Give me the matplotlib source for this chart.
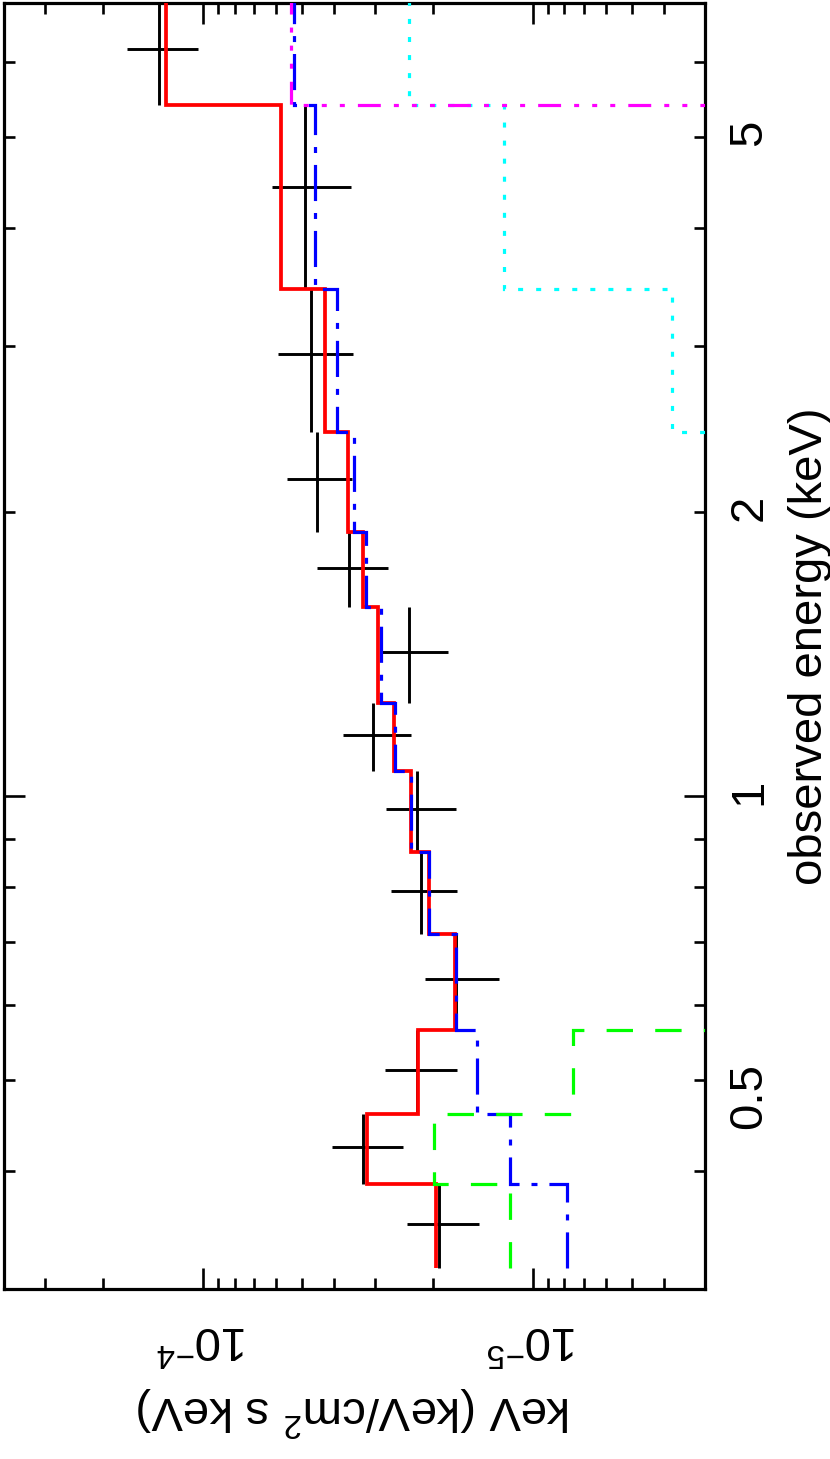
import numpy as np
import matplotlib
matplotlib.use("Agg")
import matplotlib.pyplot as plt
from matplotlib.ticker import LogLocator, FuncFormatter, NullFormatter

plt.rcParams["font.family"] = ["Liberation Sans", "DejaVu Sans"]
plt.rcParams["lines.scale_dashes"] = False

# -----------------------------
# data (energy bins in keV, flux in keV (keV/cm^2 s keV))
# -----------------------------
e_edges = [0.316, 0.388, 0.460, 0.565, 0.714, 0.872, 1.063, 1.255,
           1.587, 1.905, 2.43, 3.45, 5.40, 7.0]

flux = [1.92e-5, 3.26e-5, 2.24e-5, 1.70e-5, 2.18e-5, 2.24e-5, 3.04e-5,
        2.36e-5, 3.60e-5, 4.50e-5, 4.69e-5, 4.89e-5, 1.359e-4]
flux_hi = [2.40e-5, 4.05e-5, 2.80e-5, 2.12e-5, 2.69e-5, 2.78e-5, 3.75e-5,
           2.86e-5, 4.50e-5, 5.54e-5, 5.89e-5, 6.15e-5, 1.698e-4]
flux_lo = [1.45e-5, 2.47e-5, 1.69e-5, 1.26e-5, 1.69e-5, 1.70e-5, 2.34e-5,
           1.81e-5, 2.74e-5, 3.52e-5, 3.50e-5, 3.55e-5, 1.035e-4]

# total model and components (1e-6 = off the bottom of the plot)
model_total = [1.96e-5, 3.17e-5, 2.22e-5, 1.72e-5, 2.06e-5, 2.34e-5, 2.63e-5,
               2.94e-5, 3.26e-5, 3.62e-5, 4.27e-5, 5.77e-5, 1.293e-4]
comp_blue = [7.88e-6, 1.17e-5, 1.47e-5, 1.71e-5, 2.06e-5, 2.34e-5, 2.61e-5,
             2.88e-5, 3.20e-5, 3.47e-5, 3.91e-5, 4.56e-5, 5.27e-5]
comp_green = [1.17e-5, 1.99e-5, 7.52e-6, 1e-6, 1e-6, 1e-6, 1e-6,
              1e-6, 1e-6, 1e-6, 1e-6, 1e-6, 1e-6]
comp_cyan = [1e-6, 1e-6, 1e-6, 1e-6, 1e-6, 1e-6, 1e-6,
             1e-6, 1e-6, 1e-6, 3.78e-6, 1.22e-5, 2.37e-5]
comp_magenta = [1e-6, 1e-6, 1e-6, 1e-6, 1e-6, 1e-6, 1e-6,
                1e-6, 1e-6, 1e-6, 1e-6, 1e-6, 5.38e-5]

flux_ticks = [1e-5, 1e-4]
flux_tick_labels = [r"$\mathregular{10^{-5}}$", r"$\mathregular{10^{-4}}$"]
energy_ticks = [1]
energy_tick_labels = ["1"]
energy_minor_labels = {0.5: "0.5", 2.0: "2", 5.0: "5"}

# -----------------------------
# derived arrays
# -----------------------------
e_edges = np.array(e_edges)
e_lo, e_hi = e_edges[:-1], e_edges[1:]
e_mid = 0.5 * (e_lo + e_hi)
flux = np.array(flux)
xerr = [flux - np.array(flux_lo), np.array(flux_hi) - flux]
yerr = [e_mid - e_lo, e_hi - e_mid]

# -----------------------------
# plot (rotated layout: energy runs up, flux grows to the left)
# -----------------------------
fig = plt.figure(figsize=(8.3, 14.59), dpi=100)
ax = fig.add_axes([4 / 830, 1 - 1289 / 1459, 701 / 830, 1286 / 1459])

ax.errorbar(flux, e_mid, xerr=xerr, yerr=yerr, fmt="none", ecolor="black",
            elinewidth=2.1, capsize=0, zorder=2)

ax.stairs(model_total, e_edges, orientation="horizontal", baseline=None,
          color="#ff0000", linewidth=2.7, zorder=3)
ax.stairs(comp_blue, e_edges, orientation="horizontal", baseline=None,
          color="#0000ff", linewidth=2.3, linestyle=(0, (26, 8.6, 4.3, 8.6)), zorder=4)
ax.stairs(comp_green, e_edges, orientation="horizontal", baseline=None,
          color="#00ff00", linewidth=2.3, linestyle=(0, (19, 16)), zorder=4)
ax.stairs(comp_cyan, e_edges, orientation="horizontal", baseline=None,
          color="#00ffff", linewidth=2.3, linestyle=(0, (3.6, 9.4)), zorder=4)
ax.stairs(comp_magenta, e_edges, orientation="horizontal", baseline=None,
          color="#ff00ff", linewidth=2.3,
          linestyle=(0, (16.5, 9.4, 3.6, 9.4, 3.6, 9.4, 3.6, 9.4)), zorder=4)

ax.set_xscale("log")
ax.set_yscale("log")
ax.set_xlim(4.0e-4, 3.0e-6)
ax.set_ylim(0.30, 6.93)

ax.set_xticks(flux_ticks, flux_tick_labels)
ax.xaxis.set_minor_locator(LogLocator(base=10, subs=np.arange(2, 10)))
ax.xaxis.set_minor_formatter(NullFormatter())

ax.set_yticks(energy_ticks, energy_tick_labels)
ax.yaxis.set_minor_locator(LogLocator(base=10, subs=np.arange(2, 10)))
ax.yaxis.set_minor_formatter(FuncFormatter(
    lambda v, p: energy_minor_labels.get(round(v, 3), "")))

ax.tick_params(which="both", direction="in", top=True, bottom=True,
               left=True, right=True, width=1.9, color="black")
ax.tick_params(which="major", length=15)
ax.tick_params(which="minor", length=8)
ax.tick_params(axis="x", which="both", labelrotation=180, labelsize=34, pad=19)
ax.tick_params(axis="y", which="both", labelleft=False, labelright=True,
               labelrotation=90, labelsize=34, pad=16)

for s in ax.spines.values():
    s.set_linewidth(2.3)

ax.set_xlabel(r"keV (keV/cm$\mathregular{^2}$ s keV)", fontsize=34,
              rotation=180, labelpad=16)
ax.yaxis.set_label_position("right")
ax.set_ylabel("observed energy (keV)", fontsize=34, rotation=90, labelpad=12)

fig.savefig("out.png", dpi=100)
